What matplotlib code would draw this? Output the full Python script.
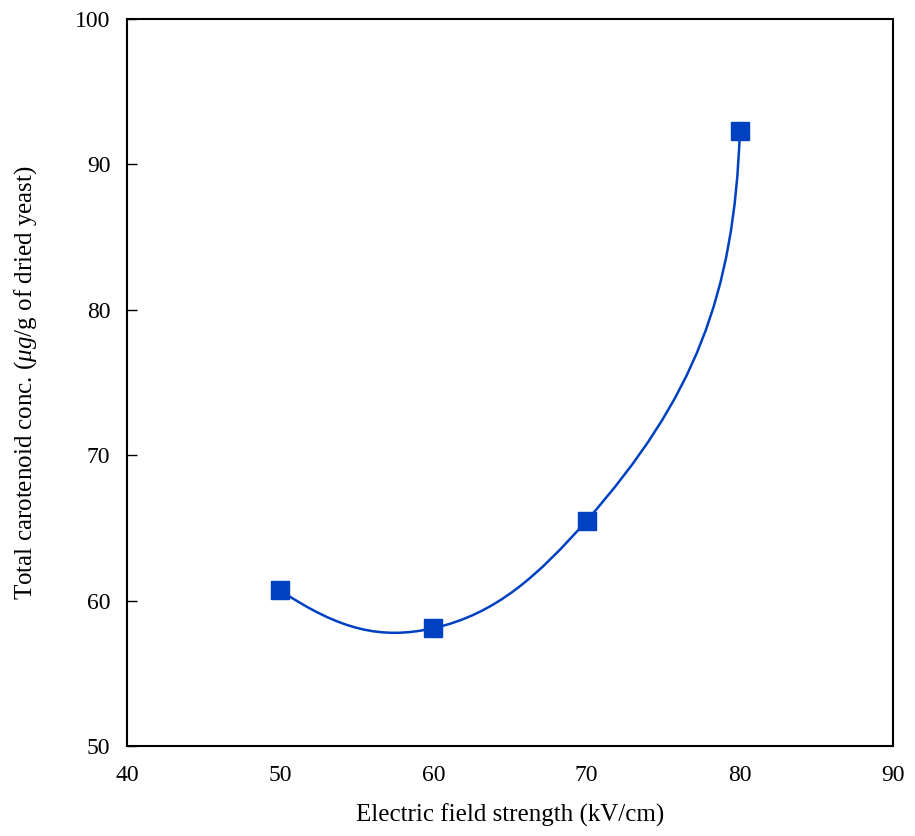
import numpy as np
import matplotlib
matplotlib.use("Agg")
import matplotlib.pyplot as plt
from matplotlib.path import Path
from matplotlib.patches import PathPatch

plt.rcParams["font.family"] = "Liberation Serif"
plt.rcParams["mathtext.fontset"] = "custom"
plt.rcParams["mathtext.rm"] = "Liberation Serif"
plt.rcParams["mathtext.it"] = "Liberation Serif:italic"

field_kv = [50, 60, 70, 80]
carotenoid = [60.7, 58.1, 65.5, 92.3]
x_ticks = [40, 50, 60, 70, 80, 90]
y_ticks = [50, 60, 70, 80, 90, 100]

BLUE = "#0041C2"

fig = plt.figure(figsize=(9.15, 8.36), dpi=100)
ax = fig.add_axes([0.1388, 0.1077, 0.8372, 0.8696])
ax.set_xlim(40, 90)
ax.set_ylim(50, 100)


def smooth_segments(P, handle=1.1):
    # chord-length cubic spline with parabolic run-out ends, as Bezier control points
    n = len(P) - 1
    h = np.linalg.norm(np.diff(P, axis=0), axis=1)
    A = np.zeros((n + 1, n + 1))
    b = np.zeros((n + 1, 2))
    A[0, 0], A[0, 1] = 1, -1
    A[n, n], A[n, n - 1] = 1, -1
    for i in range(1, n):
        A[i, i - 1] = h[i - 1]
        A[i, i] = 2 * (h[i - 1] + h[i])
        A[i, i + 1] = h[i]
        b[i] = 6 * ((P[i + 1] - P[i]) / h[i] - (P[i] - P[i - 1]) / h[i - 1])
    M = np.linalg.solve(A, b)
    segs = []
    for i in range(n):
        d0 = (P[i + 1] - P[i]) / h[i] - h[i] * (2 * M[i] + M[i + 1]) / 6
        d1 = (P[i + 1] - P[i]) / h[i] + h[i] * (M[i] + 2 * M[i + 1]) / 6
        segs.append((P[i] + handle * h[i] * d0 / 3, P[i + 1] - handle * h[i] * d1 / 3))
    return segs


# build the smoothed line in pixel space so the curve shape follows the drawn aspect
P = ax.transData.transform(np.column_stack([field_kv, carotenoid]))
verts, codes = [P[0]], [Path.MOVETO]
for i, (c1, c2) in enumerate(smooth_segments(P)):
    verts += [c1, c2, P[i + 1]]
    codes += [Path.CURVE4] * 3
verts = ax.transData.inverted().transform(np.array(verts))
ax.add_patch(PathPatch(Path(verts, codes), fill=False, edgecolor=BLUE, lw=1.8, zorder=2))

ax.plot(field_kv, carotenoid, "s", color=BLUE, ms=12.5, mec=BLUE, zorder=3)

ax.set_xticks(x_ticks)
ax.set_yticks(y_ticks)
ax.tick_params(axis="x", length=0, pad=14, labelsize=17)
ax.tick_params(axis="y", direction="in", length=7, width=1, pad=12, labelsize=17)
for sp in ax.spines.values():
    sp.set_linewidth(1.5)

ax.set_xlabel("Electric field strength (kV/cm)", fontsize=18, va="center")
ax.xaxis.set_label_coords(0.5, -0.095)
ax.set_ylabel(r"Total carotenoid conc. ($\mu g$/g of dried yeast)", fontsize=18, va="center")
ax.yaxis.set_label_coords(-0.133, 0.5)

fig.savefig("out.png", dpi=100)
